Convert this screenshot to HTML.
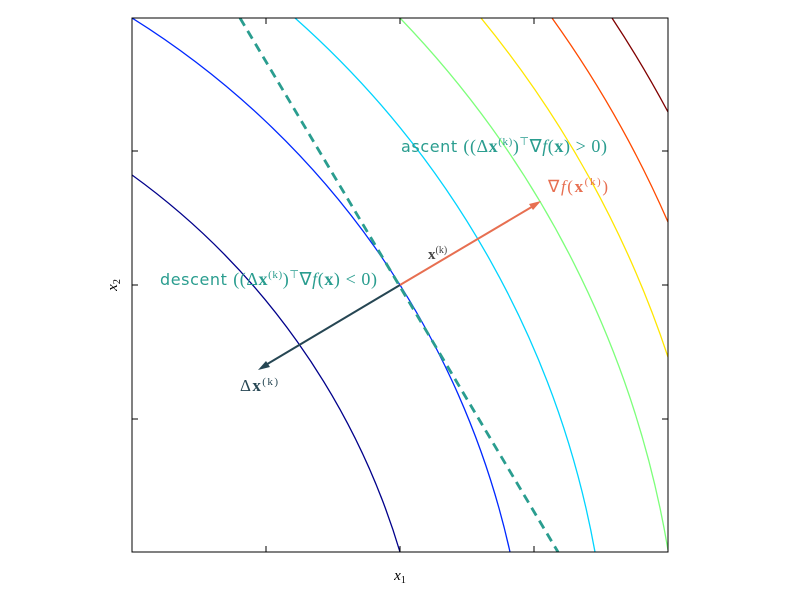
<!DOCTYPE html>
<html><head><meta charset="utf-8"><style>body{margin:0;background:#fff}svg{display:block}</style></head><body>
<svg width="800" height="600" xmlns="http://www.w3.org/2000/svg" font-family="Liberation Serif, serif">
<defs><clipPath id="c"><rect x="132" y="18" width="536" height="534"/></clipPath></defs>
<g clip-path="url(#c)" fill="none" stroke-width="1.3">
<path d="M132,175 A720,720 0 0 1 400,552" stroke="#00008b"/>
<path d="M132,18 A847,847 0 0 1 510,552" stroke="#0028ff"/>
<path d="M295,18 A937,937 0 0 1 595,552" stroke="#00d4ff"/>
<path d="M400,18 A1009,1009 0 0 1 668,550" stroke="#7dff7a"/>
<path d="M481,18 A1064,1064 0 0 1 668,357" stroke="#ffe600"/>
<path d="M552,18 A1119,1119 0 0 1 668,222" stroke="#ff4a00"/>
<path d="M612,18 A1170,1170 0 0 1 668,112" stroke="#800000"/>
<line x1="240" y1="18" x2="558" y2="552" stroke="#2a9d8f" stroke-width="2.8" stroke-dasharray="9,6"/>
</g>
<line x1="400" y1="285" x2="535" y2="205" stroke="#e76f51" stroke-width="2"/>
<polygon points="541,201 529,204 533,210" fill="#e76f51"/>
<line x1="400" y1="285" x2="264" y2="366" stroke="#264653" stroke-width="2"/>
<polygon points="258,370 270,367 266,361" fill="#264653"/>
<rect x="132" y="18" width="536" height="534" fill="none" stroke="#000" stroke-width="1"/>
<g stroke="#000">
<line x1="266" y1="552" x2="266" y2="546"/><line x1="400" y1="552" x2="400" y2="546"/><line x1="534" y1="552" x2="534" y2="546"/>
<line x1="266" y1="18" x2="266" y2="24"/><line x1="400" y1="18" x2="400" y2="24"/><line x1="534" y1="18" x2="534" y2="24"/>
<line x1="132" y1="151" x2="138" y2="151"/><line x1="132" y1="285" x2="138" y2="285"/><line x1="132" y1="419" x2="138" y2="419"/>
<line x1="668" y1="151" x2="662" y2="151"/><line x1="668" y1="285" x2="662" y2="285"/><line x1="668" y1="419" x2="662" y2="419"/>
</g>
<text x="400" y="580" font-size="15" font-style="italic" text-anchor="middle">x<tspan font-size="10" dy="3" font-style="normal">1</tspan></text>
<text transform="translate(117,285) rotate(-90)" font-size="15" font-style="italic" text-anchor="middle">x<tspan font-size="10" dy="3" font-style="normal">2</tspan></text>
<text x="401" y="152" font-size="18" fill="#2a9d8f" textLength="206" lengthAdjust="spacing"><tspan font-family="DejaVu Sans, sans-serif" font-size="16">ascent </tspan>((Δ<tspan font-weight="bold">x</tspan><tspan font-size="11" dy="-7">(k)</tspan><tspan dy="7">)</tspan><tspan font-size="11" dy="-7">⊤</tspan><tspan dy="7">∇</tspan><tspan font-style="italic">f</tspan>(<tspan font-weight="bold">x</tspan>) &gt; 0)</text>
<text x="160" y="285" font-size="18" fill="#2a9d8f" textLength="217" lengthAdjust="spacing"><tspan font-family="DejaVu Sans, sans-serif" font-size="16">descent </tspan>((Δ<tspan font-weight="bold">x</tspan><tspan font-size="11" dy="-7">(k)</tspan><tspan dy="7">)</tspan><tspan font-size="11" dy="-7">⊤</tspan><tspan dy="7">∇</tspan><tspan font-style="italic">f</tspan>(<tspan font-weight="bold">x</tspan>) &lt; 0)</text>
<text x="548" y="192" font-size="17" fill="#e76f51" textLength="60" lengthAdjust="spacing">∇<tspan font-style="italic">f</tspan>(<tspan font-weight="bold">x</tspan><tspan font-size="11" dy="-7">(k)</tspan><tspan dy="7">)</tspan></text>
<text x="428" y="259" font-size="15" fill="#444"><tspan font-weight="bold">x</tspan><tspan font-size="10" dy="-6">(k)</tspan></text>
<text x="240" y="391" font-size="17" fill="#264653" textLength="38" lengthAdjust="spacing">Δ<tspan font-weight="bold">x</tspan><tspan font-size="11" dy="-6">(k)</tspan></text>
</svg>
</body></html>
